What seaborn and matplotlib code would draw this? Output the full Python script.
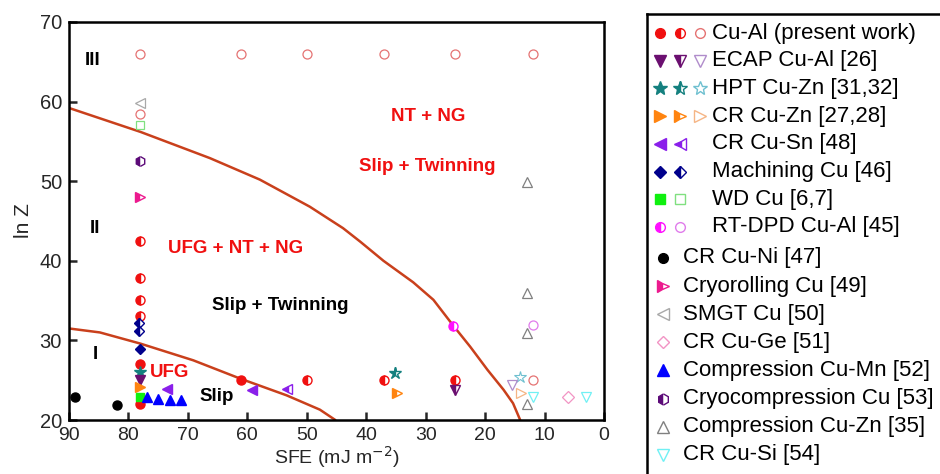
import numpy as np
import matplotlib
matplotlib.use("Agg")
import matplotlib.pyplot as plt
import seaborn as sns

# boundary curves (SFE, ln Z)
upper_sfe = [90, 78, 66.3, 57.9, 49.5, 43.9, 41.0, 37.1, 32.1, 28.7, 25.4, 22.5, 19.6, 16.9, 15.3, 14.1]
upper_lnz = [59.2, 56.2, 52.9, 50.2, 46.8, 44.1, 42.4, 40.0, 37.3, 35.1, 31.9, 29.2, 26.3, 23.8, 22.1, 20.0]
lower_sfe = [90, 84.8, 78, 69.1, 61.2, 53.4, 47.8, 45.2]
lower_lnz = [31.5, 31.0, 29.6, 27.5, 25.2, 23.1, 21.3, 20.0]

# Cu-Al (present work)
cual_full_x = [78, 78, 61]
cual_full_y = [27.0, 22.0, 25.0]
cual_half_x = [78, 78, 78, 78, 50, 37, 25]
cual_half_y = [42.5, 37.8, 35.1, 33.1, 25.0, 25.0, 25.0]
cual_open_x = [78, 61, 50, 37, 25, 12, 78, 12]
cual_open_y = [66, 66, 66, 66, 66, 66, 58.5, 25.0]
# ECAP Cu-Al
ecap_full_x, ecap_full_y = [78], [25.0]
ecap_half_x, ecap_half_y = [25], [23.8]
ecap_open_x, ecap_open_y = [15.4], [24.4]
# HPT Cu-Zn
hpt_full_x, hpt_full_y = [78], [26.0]
hpt_half_x, hpt_half_y = [35.1], [25.9]
hpt_open_x, hpt_open_y = [14.1], [25.4]
# CR Cu-Zn
crzn_full_x, crzn_full_y = [78], [24.1]
crzn_half_x, crzn_half_y = [34.8], [23.4]
crzn_open_x, crzn_open_y = [13.9], [23.4]
# CR Cu-Sn
crsn_full_x, crsn_full_y = [73.5, 59.2], [23.9, 23.8]
crsn_half_x, crsn_half_y = [53.3], [23.9]
# Machining Cu
mach_full_x, mach_full_y = [78], [28.9]
mach_half_x, mach_half_y = [78.3, 78.3], [32.2, 31.2]
# WD Cu
wd_full_x, wd_full_y = [78], [22.9]
wd_open_x, wd_open_y = [78], [57.1]
# RT-DPD Cu-Al
rtdpd_half_x, rtdpd_half_y = [25.4], [31.8]
rtdpd_open_x, rtdpd_open_y = [12], [31.9]
# single-marker series
crni_x, crni_y = [89, 82], [22.9, 21.9]
cryoroll_x, cryoroll_y = [78], [48.0]
smgt_x, smgt_y = [78], [59.8]
crge_x, crge_y = [6], [22.9]
compmn_x, compmn_y = [76.9, 75.0, 73.0, 71.2], [22.9, 22.7, 22.5, 22.5]
cryocomp_x, cryocomp_y = [78], [52.5]
compzn_x, compzn_y = [12.9, 12.9, 12.9, 12.9], [49.9, 36.0, 30.9, 22.0]
crsi_x, crsi_y = [11.9, 3.0], [22.9, 22.9]

sns.set_style("white")
plt.rcParams['font.family'] = ['Liberation Sans', 'DejaVu Sans']

RED = '#F01010'
RED_OPEN = '#E57373'
ECAP = '#6B0F70'
ECAP_OPEN = '#B08CCB'
HPT = '#14807F'
HPT_OPEN = '#6FC0D0'
ORANGE = '#FF8410'
ORANGE_OPEN = '#F5B585'
VIOLET = '#8A1FEA'
NAVY = '#00008C'
GREEN = '#10F010'
GREEN_OPEN = '#80E080'
MAGENTA = '#FF10FF'
MAGENTA_OPEN = '#E07CEB'
PINK = '#EC1A8E'
GRAY_L = '#A8A8A8'
PINK_L = '#F294C4'
BLUE = '#0000FF'
PURPLE = '#5C0A78'
GRAY = '#808080'
CYAN = '#70F0F4'
CURVE = '#C9401C'


def pts(ax, x, y, marker, color, fill, ms, mew=1.0, z=3):
    if fill == 'open':
        ax.plot(x, y, ls='none', marker=marker, ms=ms, mfc='none', mec=color, mew=mew, zorder=z, clip_on=False)
    elif fill == 'half':
        ax.plot(x, y, ls='none', marker=marker, ms=ms, fillstyle='left', mfc=color,
                markerfacecoloralt='white', mec=color, mew=mew, zorder=z, clip_on=False)
    else:
        ax.plot(x, y, ls='none', marker=marker, ms=ms, mfc=color, mec=color, mew=mew, zorder=z, clip_on=False)


fig = plt.figure(figsize=(9.4, 4.74), dpi=100)
ax = fig.add_axes([69 / 940, 1 - 420 / 474, 535 / 940, 398 / 474])

sns.lineplot(x=upper_sfe, y=upper_lnz, sort=False, estimator=None, color=CURVE, lw=1.8, ax=ax, zorder=2)
sns.lineplot(x=lower_sfe, y=lower_lnz, sort=False, estimator=None, color=CURVE, lw=1.8, ax=ax, zorder=2)

# plot series
pts(ax, cual_open_x, cual_open_y, 'o', RED_OPEN, 'open', 6.5, 0.9)
pts(ax, cual_half_x, cual_half_y, 'o', RED, 'half', 6.5)
pts(ax, mach_half_x, mach_half_y, 'D', NAVY, 'half', 5.5)
pts(ax, mach_full_x, mach_full_y, 'D', NAVY, 'full', 5.5)
pts(ax, cual_full_x, cual_full_y, 'o', RED, 'full', 6.5)
pts(ax, hpt_full_x, hpt_full_y, '*', HPT, 'full', 9)
pts(ax, hpt_half_x, hpt_half_y, '*', HPT, 'half', 9)
pts(ax, hpt_open_x, hpt_open_y, '*', HPT_OPEN, 'open', 9, 0.8)
pts(ax, ecap_full_x, ecap_full_y, 'v', ECAP, 'full', 7.5)
pts(ax, ecap_half_x, ecap_half_y, 'v', ECAP, 'half', 7.5)
pts(ax, ecap_open_x, ecap_open_y, 'v', ECAP_OPEN, 'open', 7.5, 0.9)
pts(ax, crzn_full_x, crzn_full_y, '>', ORANGE, 'full', 7)
pts(ax, crzn_half_x, crzn_half_y, '>', ORANGE, 'half', 7)
pts(ax, crzn_open_x, crzn_open_y, '>', ORANGE_OPEN, 'open', 7, 0.9)
pts(ax, wd_full_x, wd_full_y, 's', GREEN, 'full', 6)
pts(ax, wd_open_x, wd_open_y, 's', GREEN_OPEN, 'open', 6, 0.9)
pts(ax, crsn_full_x, crsn_full_y, '<', VIOLET, 'full', 7.5)
pts(ax, crsn_half_x, crsn_half_y, '<', VIOLET, 'half', 7.5)
pts(ax, rtdpd_half_x, rtdpd_half_y, 'o', MAGENTA, 'half', 6.5)
pts(ax, rtdpd_open_x, rtdpd_open_y, 'o', MAGENTA_OPEN, 'open', 6.5, 0.9)
pts(ax, crni_x, crni_y, 'o', 'black', 'full', 6.5)
pts(ax, cryoroll_x, cryoroll_y, '>', PINK, 'half', 7)
pts(ax, smgt_x, smgt_y, '<', GRAY_L, 'open', 7, 0.9)
pts(ax, crge_x, crge_y, 'D', PINK_L, 'open', 6, 0.9)
pts(ax, compmn_x, compmn_y, '^', BLUE, 'full', 7.5)
pts(ax, cryocomp_x, cryocomp_y, 'h', PURPLE, 'half', 7)
pts(ax, compzn_x, compzn_y, '^', GRAY, 'open', 7.5, 0.9)
pts(ax, crsi_x, crsi_y, 'v', CYAN, 'open', 7.5, 0.9)

ax.set_xlim(90, 0)
ax.set_ylim(20, 70)
ax.set_xticks(np.arange(90, -1, -10))
ax.set_yticks(np.arange(20, 71, 10))
for s in ax.spines.values():
    s.set_linewidth(1.8)
    s.set_color('black')
ax.tick_params(axis='x', direction='in', length=6, width=1.8, labelsize=14, pad=5, top=False, bottom=True)
ax.tick_params(axis='y', direction='in', length=6, width=1.8, labelsize=14.5, pad=5, left=True, right=False)
ax.set_xlabel('SFE (mJ m$^{-2}$)', fontsize=14, labelpad=0)
ax.set_ylabel('ln Z', fontsize=15, labelpad=5)

# region annotations
bold = dict(fontsize=13.5, fontweight='bold', ha='center', va='center')
ax.text(86.05, 65.2, 'III', color='black', **bold)
ax.text(85.6, 44.0, 'II', color='black', **bold)
ax.text(85.6, 28.2, 'I', color='black', **bold)
ax.text(29.6, 58.1, 'NT + NG', color=RED, **bold)
ax.text(29.8, 51.8, 'Slip + Twinning', color=RED, **bold)
ax.text(61.9, 41.5, 'UFG + NT + NG', color=RED, **bold)
ax.text(54.4, 34.4, 'Slip + Twinning', color='black', **bold)
ax.text(73.1, 26.0, 'UFG', color=RED, **bold)
ax.text(65.2, 23.0, 'Slip', color='black', **bold)

# legend panel (cut off by figure edge like the original)
lax = fig.add_axes([647 / 940, (474 - 14 - 480) / 474, 400 / 940, 480 / 474])
lax.set_xlim(0, 400)
lax.set_ylim(480, 0)
lax.set_xticks([])
lax.set_yticks([])
for s in lax.spines.values():
    s.set_linewidth(1.8)
    s.set_color('black')

legend_rows = [
    ('Cu-Al (present work)', [('o', RED, 'full'), ('o', RED, 'half'), ('o', RED_OPEN, 'open')]),
    ('ECAP Cu-Al [26]', [('v', ECAP, 'full'), ('v', ECAP, 'half'), ('v', ECAP_OPEN, 'open')]),
    ('HPT Cu-Zn [31,32]', [('*', HPT, 'full'), ('*', HPT, 'half'), ('*', HPT_OPEN, 'open')]),
    ('CR Cu-Zn [27,28]', [('>', ORANGE, 'full'), ('>', ORANGE, 'half'), ('>', ORANGE_OPEN, 'open')]),
    ('CR Cu-Sn [48]', [('<', VIOLET, 'full'), ('<', VIOLET, 'half')]),
    ('Machining Cu [46]', [('D', NAVY, 'full'), ('D', NAVY, 'half')]),
    ('WD Cu [6,7]', [('s', GREEN, 'full'), ('s', GREEN_OPEN, 'open')]),
    ('RT-DPD Cu-Al [45]', [('o', MAGENTA, 'half'), ('o', MAGENTA_OPEN, 'open')]),
    ('CR Cu-Ni [47]', [('o', 'black', 'full')]),
    ('Cryorolling Cu [49]', [('>', PINK, 'half')]),
    ('SMGT Cu [50]', [('<', GRAY_L, 'open')]),
    ('CR Cu-Ge [51]', [('D', PINK_L, 'open')]),
    ('Compression Cu-Mn [52]', [('^', BLUE, 'full')]),
    ('Cryocompression Cu [53]', [('h', PURPLE, 'half')]),
    ('Compression Cu-Zn [35]', [('^', GRAY, 'open')]),
    ('CR Cu-Si [54]', [('v', CYAN, 'open')]),
]
row_y = np.r_[19 + 27.7 * np.arange(8), 244 + 28.1 * np.arange(8)]
msize = {'o': 7, 'v': 8, '*': 10, '>': 8, '<': 8, 'D': 6, 's': 6.5, '^': 8, 'h': 8}
for (label, marks), yy in zip(legend_rows, row_y):
    if len(marks) > 1:
        for k, (m, c, f) in enumerate(marks):
            pts(lax, [13 + 20 * k], [yy], m, c, f, msize[m], 1.0)
        tx = 65
    else:
        m, c, f = marks[0]
        pts(lax, [16], [yy], m, c, f, msize[m], 1.0)
        tx = 36
    lax.text(tx, yy, label, fontsize=16, ha='left', va='center', color='black')

fig.savefig('out.png', dpi=100)
